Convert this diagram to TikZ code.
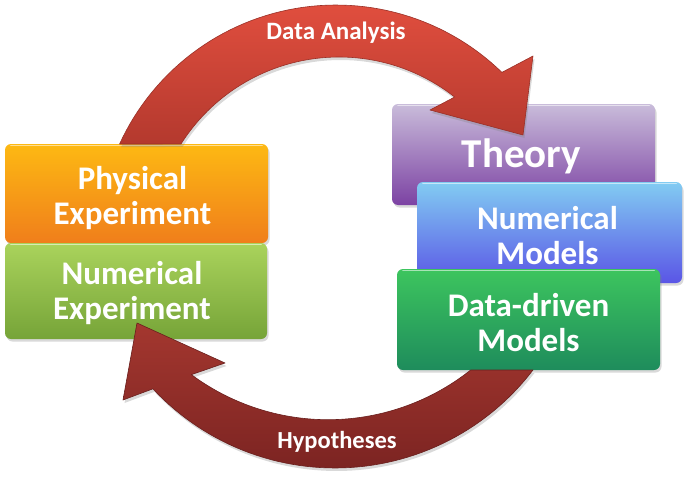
\documentclass[tikz,border=0pt]{standalone}
\usepackage{fontspec}
\setmainfont{Carlito}
\usetikzlibrary{shadows}
\definecolor{orT}{HTML}{FDB913}
\definecolor{orB}{HTML}{F07E1B}
\definecolor{lgT}{HTML}{AAD35C}
\definecolor{lgB}{HTML}{76A438}
\definecolor{puT}{HTML}{C9BCDA}
\definecolor{puB}{HTML}{7C42A3}
\definecolor{blT}{HTML}{82CCF2}
\definecolor{blB}{HTML}{5A55E6}
\definecolor{dgT}{HTML}{3DC55E}
\definecolor{dgB}{HTML}{1E8C5C}
\definecolor{raT}{HTML}{E04E3E}
\definecolor{raB}{HTML}{B4392E}
\definecolor{rbT}{HTML}{A4372F}
\definecolor{rbB}{HTML}{7C2422}
\begin{document}
\begin{tikzpicture}[x=1pt,y=-1pt,
  box/.style={rounded corners=6pt, inner sep=0pt,
    drop shadow={shadow xshift=1.5pt, shadow yshift=-2.5pt, opacity=0.3}},
  boxtext/.style={align=center, text=white, inner sep=0pt,
    font=\bfseries\fontsize{33}{35}\selectfont},
  hl/.style={white, opacity=0.55, line width=1.2pt, line cap=round},
  arrowshape/.style={drop shadow={shadow xshift=1.5pt, shadow yshift=-3pt, opacity=0.3}},
  lbl/.style={text=white, font=\bfseries\fontsize{25}{27}\selectfont, inner sep=0pt}]
\useasboundingbox (0,0) rectangle (685,479);

% right boxes
\node[box, minimum width=263pt, minimum height=101pt, top color=puT, bottom color=puB] (theory) at (523.5,154.5) {};
\draw[hl] ([xshift=6pt,yshift=-1.5pt]theory.north west) -- ([xshift=-6pt,yshift=-1.5pt]theory.north east);
\node[boxtext, font=\bfseries\fontsize{41}{43}\selectfont] (theoryT) at ([xshift=-2pt,yshift=-2pt]theory.center) {Theory};

\node[box, minimum width=265pt, minimum height=101pt, top color=blT, bottom color=blB] (nummod) at (549.5,232.5) {};
\draw[hl] ([xshift=6pt,yshift=-1.5pt]nummod.north west) -- ([xshift=-6pt,yshift=-1.5pt]nummod.north east);
\node[boxtext] (nummodT) at ([xshift=-2pt,yshift=-3.5pt]nummod.center) {Numerical\\Models};

\node[box, minimum width=263pt, minimum height=101pt, top color=dgT, bottom color=dgB] (datamod) at (528.5,319.5) {};
\draw[hl] ([xshift=6pt,yshift=-1.5pt]datamod.north west) -- ([xshift=-6pt,yshift=-1.5pt]datamod.north east);
\node[boxtext] (datamodT) at ([yshift=-3.5pt]datamod.center) {Data-driven\\Models};

% left boxes
\node[box, minimum width=263pt, minimum height=99pt, top color=orT, bottom color=orB] (phys) at (136.5,193.5) {};
\draw[hl] ([xshift=6pt,yshift=-1.5pt]phys.north west) -- ([xshift=-6pt,yshift=-1.5pt]phys.north east);
\node[boxtext] (physT) at ([xshift=-4pt,yshift=-5pt]phys.center) {Physical\\Experiment};

\node[box, minimum width=262pt, minimum height=96pt, top color=lgT, bottom color=lgB] (numexp) at (136,291) {};
\draw[hl] ([xshift=6pt,yshift=-1.5pt]numexp.north west) -- ([xshift=-6pt,yshift=-1.5pt]numexp.north east);
\node[boxtext] (numexpT) at ([xshift=-4pt,yshift=-2.5pt]numexp.center) {Numerical\\Experiment};

% top arrow (Data Analysis)
\path[arrowshape, top color=raT, bottom color=raB, draw=raB!85!black, line width=0.6pt, line join=round]
  (119.6,144)
  -- plot[domain=-155.4:-45.8, samples=60] ({336+238*cos(\x)}, {243+238*sin(\x)})
  -- (533,56) -- (523,135) -- (430,110)
  -- plot[domain=-51.8:-147.67, samples=60] ({339+187*cos(\x)}, {244+187*sin(\x)})
  -- cycle;
\node[lbl] (da) at (336,33) {Data Analysis};

% bottom arrow (Hypotheses)
\path[arrowshape, top color=rbT, bottom color=rbB, draw=rbB!85!black, line width=0.6pt, line join=round]
  (533,370)
  -- plot[domain=37.33:137, samples=60] ({335+249*cos(\x)}, {219+249*sin(\x)})
  -- (123,400) -- (137,323) -- (225,363)
  -- plot[domain=126.5:51.6, samples=60] ({328+229.7*cos(\x)}, {190+229.7*sin(\x)})
  -- cycle;
\node[lbl, font=\bfseries\fontsize{24.5}{26}\selectfont] (hy) at (337,442) {Hypotheses};
\end{tikzpicture}
\end{document}
